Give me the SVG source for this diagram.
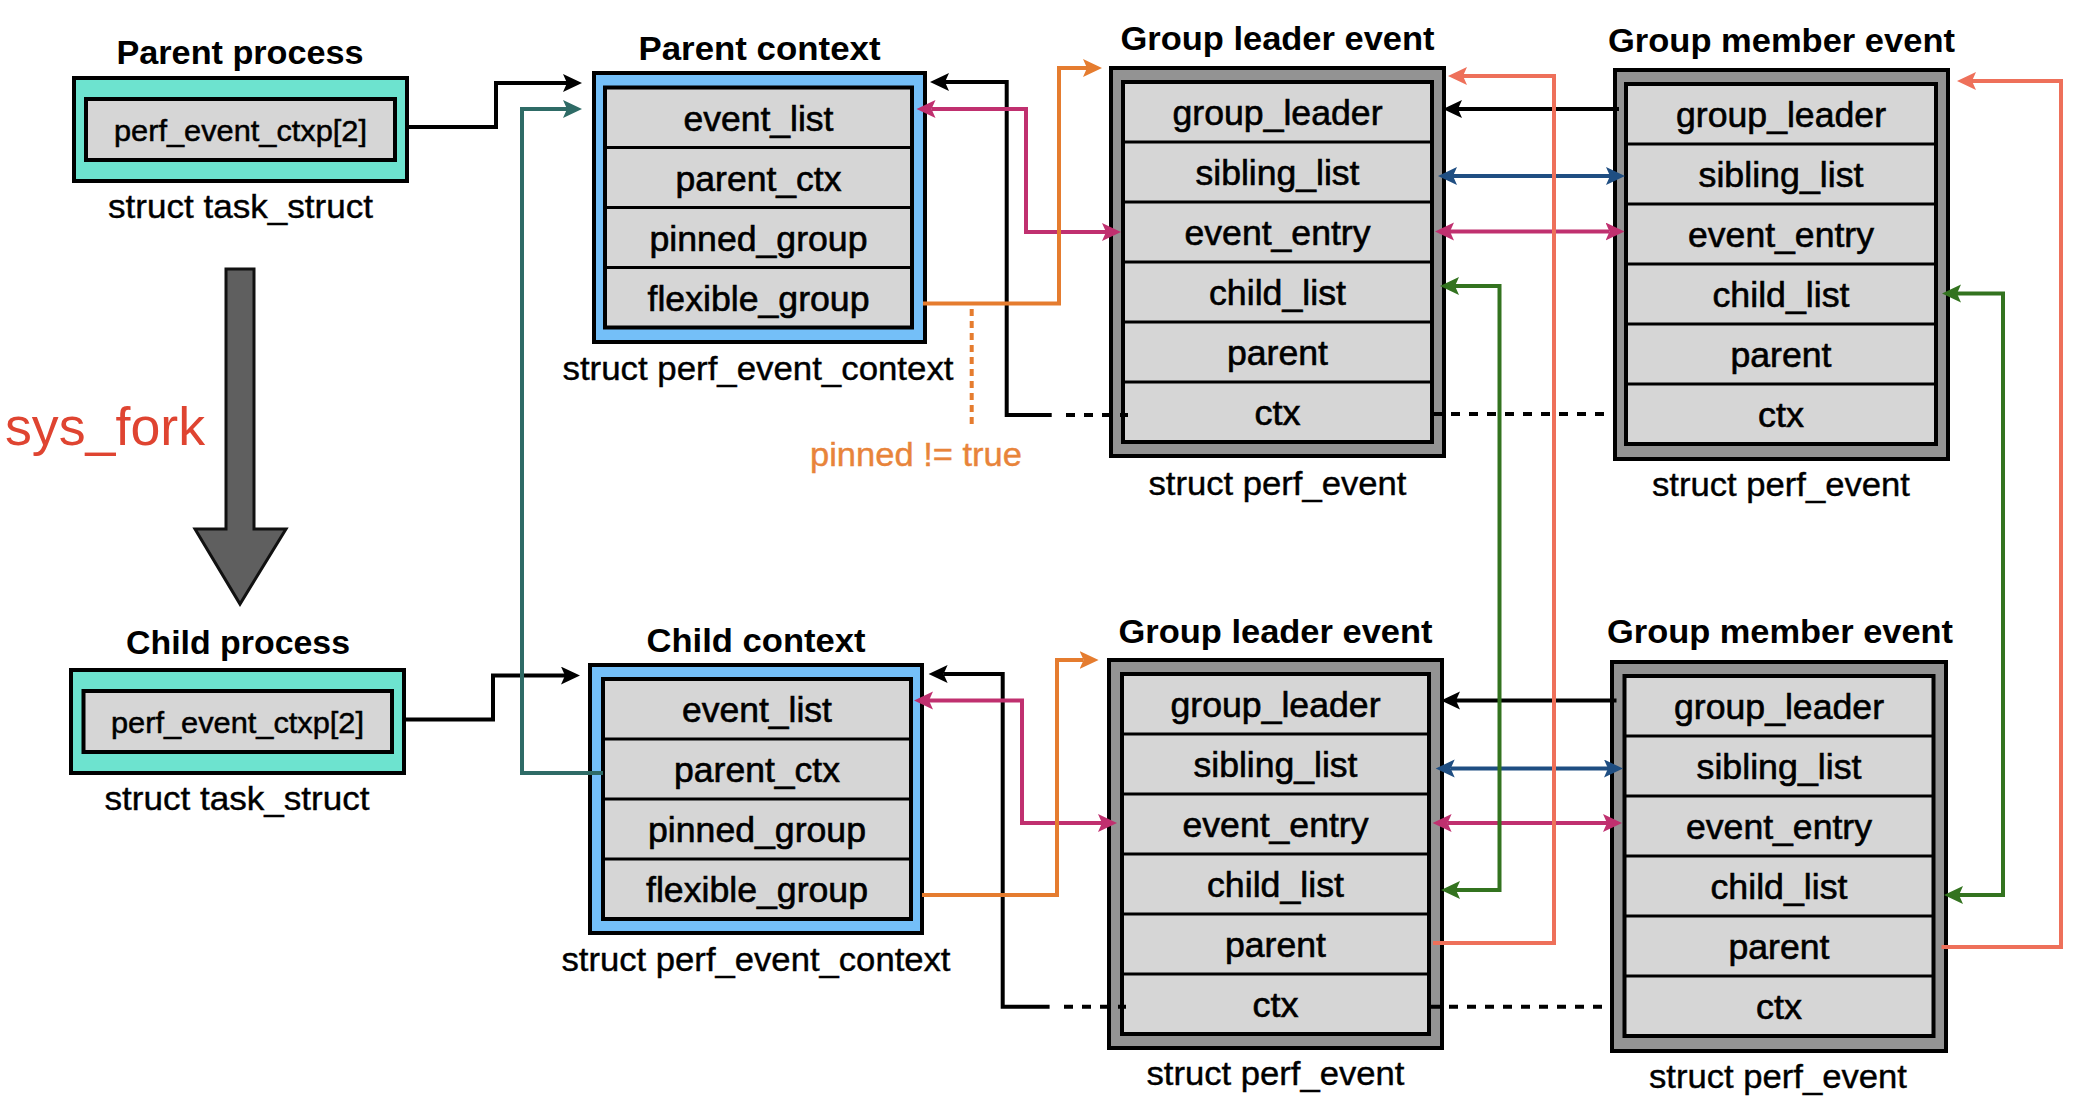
<svg xmlns="http://www.w3.org/2000/svg" width="2098" height="1116" viewBox="0 0 2098 1116">
<style>
text{font-family:"Liberation Sans",Arial,Helvetica,sans-serif;fill:#000}
.title{font-weight:bold;font-size:34px;text-anchor:middle}
.field{font-size:35px;text-anchor:middle;stroke:#000;stroke-width:0.6}
.tfield{font-size:30px;text-anchor:middle;stroke:#000;stroke-width:0.5}
.label{font-size:33px;text-anchor:middle;stroke:#000;stroke-width:0.4}
.outer{stroke:#000;stroke-width:4}
.task{fill:#6de3cf}
.ctx{fill:#74bff8}
.ev{fill:#939393}
.inner{fill:#d6d6d6;stroke:#000;stroke-width:4}
.div{stroke:#000;stroke-width:3}
.c{fill:none;stroke-width:4}
.k{stroke:#000}
.tl{stroke:#2e6b66}
.mg{stroke:#c0306f}
.or{stroke:#e57c2f}
.bl{stroke:#1f4e82}
.gr{stroke:#33731f}
.co{stroke:#ee705a}
</style>
<defs>
<marker id="ak" markerUnits="userSpaceOnUse" markerWidth="20" markerHeight="20" refX="4" refY="9" orient="auto-start-reverse"><path d="M0,0 L19,9 L0,18 L4,9 Z" fill="#000"/></marker>
<marker id="atl" markerUnits="userSpaceOnUse" markerWidth="20" markerHeight="20" refX="4" refY="9" orient="auto-start-reverse"><path d="M0,0 L19,9 L0,18 L4,9 Z" fill="#2e6b66"/></marker>
<marker id="amg" markerUnits="userSpaceOnUse" markerWidth="20" markerHeight="20" refX="4" refY="9" orient="auto-start-reverse"><path d="M0,0 L19,9 L0,18 L4,9 Z" fill="#c0306f"/></marker>
<marker id="aor" markerUnits="userSpaceOnUse" markerWidth="20" markerHeight="20" refX="4" refY="9" orient="auto-start-reverse"><path d="M0,0 L19,9 L0,18 L4,9 Z" fill="#e57c2f"/></marker>
<marker id="abl" markerUnits="userSpaceOnUse" markerWidth="20" markerHeight="20" refX="4" refY="9" orient="auto-start-reverse"><path d="M0,0 L19,9 L0,18 L4,9 Z" fill="#1f4e82"/></marker>
<marker id="agr" markerUnits="userSpaceOnUse" markerWidth="20" markerHeight="20" refX="4" refY="9" orient="auto-start-reverse"><path d="M0,0 L19,9 L0,18 L4,9 Z" fill="#33731f"/></marker>
<marker id="aco" markerUnits="userSpaceOnUse" markerWidth="20" markerHeight="20" refX="4" refY="9" orient="auto-start-reverse"><path d="M0,0 L19,9 L0,18 L4,9 Z" fill="#ee705a"/></marker>
</defs>
<rect width="2098" height="1116" fill="#fff"/>

<!-- sys_fork arrow -->
<g id="sys-fork">
<path d="M226,269 H254 V529 H286 L240,604 L195,529 H226 Z" fill="#5f5f5f" stroke="#111" stroke-width="3"/>
<text x="5" y="445" font-size="53" textLength="200" lengthAdjust="spacingAndGlyphs" style="fill:#df4431">sys_fork</text>
</g>

<!-- Parent process -->
<g id="parent-task">
<text class="title" x="240" y="64" textLength="247" lengthAdjust="spacingAndGlyphs">Parent process</text>
<rect class="outer task" x="74" y="78" width="333" height="103"/>
<rect class="inner" x="86" y="99" width="309" height="61"/>
<text class="tfield" x="240.5" y="141" textLength="253" lengthAdjust="spacingAndGlyphs">perf_event_ctxp[2]</text>
<text class="label" x="240.5" y="218" textLength="265" lengthAdjust="spacingAndGlyphs">struct task_struct</text>
</g>

<!-- Child process -->
<g id="child-task">
<text class="title" x="238" y="654" textLength="224" lengthAdjust="spacingAndGlyphs">Child process</text>
<rect class="outer task" x="71" y="670" width="333" height="103"/>
<rect class="inner" x="83.5" y="691" width="308.5" height="61"/>
<text class="tfield" x="237.5" y="733" textLength="253" lengthAdjust="spacingAndGlyphs">perf_event_ctxp[2]</text>
<text class="label" x="237" y="810" textLength="265" lengthAdjust="spacingAndGlyphs">struct task_struct</text>
</g>

<!-- Parent context -->
<g id="parent-context">
<text class="title" x="759.5" y="60" textLength="242" lengthAdjust="spacingAndGlyphs">Parent context</text>
<rect class="outer ctx" x="594" y="73" width="331" height="269"/>
<rect class="inner" x="605" y="87.5" width="307" height="240"/>
<path class="div" d="M605,147.5 H912 M605,207.5 H912 M605,267.5 H912"/>
<text class="field" x="758.5" y="130.5" textLength="150" lengthAdjust="spacingAndGlyphs">event_list</text>
<text class="field" x="758.5" y="190.5" textLength="166" lengthAdjust="spacingAndGlyphs">parent_ctx</text>
<text class="field" x="758.5" y="250.5" textLength="218" lengthAdjust="spacingAndGlyphs">pinned_group</text>
<text class="field" x="758.5" y="310.5" textLength="222" lengthAdjust="spacingAndGlyphs">flexible_group</text>
<text class="label" x="758" y="380" textLength="391" lengthAdjust="spacingAndGlyphs">struct perf_event_context</text>
</g>

<!-- Child context -->
<g id="child-context">
<text class="title" x="756" y="652" textLength="219" lengthAdjust="spacingAndGlyphs">Child context</text>
<rect class="outer ctx" x="590" y="665" width="332" height="268"/>
<rect class="inner" x="603" y="679" width="308" height="240"/>
<path class="div" d="M603,739 H911 M603,799 H911 M603,859 H911"/>
<text class="field" x="757" y="722" textLength="150" lengthAdjust="spacingAndGlyphs">event_list</text>
<text class="field" x="757" y="782" textLength="166" lengthAdjust="spacingAndGlyphs">parent_ctx</text>
<text class="field" x="757" y="842" textLength="218" lengthAdjust="spacingAndGlyphs">pinned_group</text>
<text class="field" x="757" y="902" textLength="222" lengthAdjust="spacingAndGlyphs">flexible_group</text>
<text class="label" x="756" y="971" textLength="389" lengthAdjust="spacingAndGlyphs">struct perf_event_context</text>
</g>

<!-- Parent group leader -->
<g id="parent-leader">
<text class="title" x="1277.5" y="50" textLength="314" lengthAdjust="spacingAndGlyphs">Group leader event</text>
<rect class="outer ev" x="1111" y="68" width="333" height="388"/>
<rect class="inner" x="1123" y="82" width="309" height="360"/>
<path class="div" d="M1123,142 H1432 M1123,202 H1432 M1123,262 H1432 M1123,322 H1432 M1123,382 H1432"/>
<text class="field" x="1277.5" y="125" textLength="210" lengthAdjust="spacingAndGlyphs">group_leader</text>
<text class="field" x="1277.5" y="185" textLength="164" lengthAdjust="spacingAndGlyphs">sibling_list</text>
<text class="field" x="1277.5" y="245" textLength="186" lengthAdjust="spacingAndGlyphs">event_entry</text>
<text class="field" x="1277.5" y="305" textLength="137" lengthAdjust="spacingAndGlyphs">child_list</text>
<text class="field" x="1277.5" y="365" textLength="101" lengthAdjust="spacingAndGlyphs">parent</text>
<text class="field" x="1277.5" y="425" textLength="46" lengthAdjust="spacingAndGlyphs">ctx</text>
<text class="label" x="1277.5" y="495" textLength="258" lengthAdjust="spacingAndGlyphs">struct perf_event</text>
</g>

<!-- Parent group member -->
<g id="parent-member">
<text class="title" x="1781.5" y="52" textLength="347" lengthAdjust="spacingAndGlyphs">Group member event</text>
<rect class="outer ev" x="1615" y="70" width="333" height="389"/>
<rect class="inner" x="1626" y="84" width="310" height="360"/>
<path class="div" d="M1626,144 H1936 M1626,204 H1936 M1626,264 H1936 M1626,324 H1936 M1626,384 H1936"/>
<text class="field" x="1781" y="127" textLength="210" lengthAdjust="spacingAndGlyphs">group_leader</text>
<text class="field" x="1781" y="187" textLength="165" lengthAdjust="spacingAndGlyphs">sibling_list</text>
<text class="field" x="1781" y="247" textLength="186" lengthAdjust="spacingAndGlyphs">event_entry</text>
<text class="field" x="1781" y="307" textLength="137" lengthAdjust="spacingAndGlyphs">child_list</text>
<text class="field" x="1781" y="367" textLength="101" lengthAdjust="spacingAndGlyphs">parent</text>
<text class="field" x="1781" y="427" textLength="46" lengthAdjust="spacingAndGlyphs">ctx</text>
<text class="label" x="1781" y="496" textLength="258" lengthAdjust="spacingAndGlyphs">struct perf_event</text>
</g>

<!-- Child group leader -->
<g id="child-leader">
<text class="title" x="1275.5" y="643" textLength="314" lengthAdjust="spacingAndGlyphs">Group leader event</text>
<rect class="outer ev" x="1109" y="660" width="333" height="388"/>
<rect class="inner" x="1122" y="674" width="307" height="360"/>
<path class="div" d="M1122,734 H1429 M1122,794 H1429 M1122,854 H1429 M1122,914 H1429 M1122,974 H1429"/>
<text class="field" x="1275.5" y="717" textLength="210" lengthAdjust="spacingAndGlyphs">group_leader</text>
<text class="field" x="1275.5" y="777" textLength="164" lengthAdjust="spacingAndGlyphs">sibling_list</text>
<text class="field" x="1275.5" y="837" textLength="186" lengthAdjust="spacingAndGlyphs">event_entry</text>
<text class="field" x="1275.5" y="897" textLength="137" lengthAdjust="spacingAndGlyphs">child_list</text>
<text class="field" x="1275.5" y="957" textLength="101" lengthAdjust="spacingAndGlyphs">parent</text>
<text class="field" x="1275.5" y="1017" textLength="46" lengthAdjust="spacingAndGlyphs">ctx</text>
<text class="label" x="1275.5" y="1085" textLength="258" lengthAdjust="spacingAndGlyphs">struct perf_event</text>
</g>

<!-- Child group member -->
<g id="child-member">
<text class="title" x="1780" y="643" textLength="346" lengthAdjust="spacingAndGlyphs">Group member event</text>
<rect class="outer ev" x="1612" y="662" width="334" height="389"/>
<rect class="inner" x="1624.5" y="676" width="309" height="360"/>
<path class="div" d="M1624.5,736 H1933.5 M1624.5,796 H1933.5 M1624.5,856 H1933.5 M1624.5,916 H1933.5 M1624.5,976 H1933.5"/>
<text class="field" x="1779" y="719" textLength="210" lengthAdjust="spacingAndGlyphs">group_leader</text>
<text class="field" x="1779" y="779" textLength="165" lengthAdjust="spacingAndGlyphs">sibling_list</text>
<text class="field" x="1779" y="839" textLength="186" lengthAdjust="spacingAndGlyphs">event_entry</text>
<text class="field" x="1779" y="899" textLength="137" lengthAdjust="spacingAndGlyphs">child_list</text>
<text class="field" x="1779" y="959" textLength="101" lengthAdjust="spacingAndGlyphs">parent</text>
<text class="field" x="1779" y="1019" textLength="46" lengthAdjust="spacingAndGlyphs">ctx</text>
<text class="label" x="1778" y="1088" textLength="258" lengthAdjust="spacingAndGlyphs">struct perf_event</text>
</g>

<text x="810" y="466" font-size="33" textLength="212" lengthAdjust="spacingAndGlyphs" style="fill:#e8843a;stroke:#e8843a;stroke-width:0.4">pinned != true</text>

<!-- Connectors -->
<g id="connectors">
<path class="c k" d="M405,127 H496 V83 H567" marker-end="url(#ak)"/>
<path class="c k" d="M404,719.6 H493 V675.6 H565" marker-end="url(#ak)"/>
<path class="c tl" d="M603,773 H522 V109 H567" marker-end="url(#atl)"/>
<path class="c k" d="M1051.7,415 H1006.7 V82 H945" marker-end="url(#ak)"/>
<path class="c k" d="M1066,415 H1128" stroke-dasharray="9 9"/>
<path class="c k" d="M1433,414 H1613" stroke-dasharray="9 9"/>
<path class="c k" d="M1049.6,1006.7 H1002.7 V674 H943.6" marker-end="url(#ak)"/>
<path class="c k" d="M1064,1006.7 H1126" stroke-dasharray="9 9"/>
<path class="c k" d="M1431,1006.7 H1611" stroke-dasharray="9 9"/>
<path class="c mg" d="M931.5,109 H1026 V232 H1106" marker-start="url(#amg)" marker-end="url(#amg)"/>
<path class="c mg" d="M929,700.6 H1022 V823 H1102" marker-start="url(#amg)" marker-end="url(#amg)"/>
<path class="c or" d="M923,303.6 H1059 V68 H1087" marker-end="url(#aor)"/>
<path class="c or" d="M922,895 H1057 V660 H1083.6" marker-end="url(#aor)"/>
<path class="c or" d="M971.7,309 V427" stroke-width="4.5" stroke-dasharray="7 5"/>
<path class="c k" d="M1619,109 H1458" marker-end="url(#ak)"/>
<path class="c k" d="M1616.5,700.6 H1456" marker-end="url(#ak)"/>
<path class="c bl" d="M1453,176 H1610" marker-start="url(#abl)" marker-end="url(#abl)"/>
<path class="c bl" d="M1450.7,768.5 H1608" marker-start="url(#abl)" marker-end="url(#abl)"/>
<path class="c mg" d="M1450,231.5 H1609.5" marker-start="url(#amg)" marker-end="url(#amg)"/>
<path class="c mg" d="M1447.6,823 H1607" marker-start="url(#amg)" marker-end="url(#amg)"/>
<path class="c gr" d="M1455,286 H1499.5 V890 H1456" marker-start="url(#agr)" marker-end="url(#agr)"/>
<path class="c gr" d="M1957,293.6 H2003 V895 H1959" marker-start="url(#agr)" marker-end="url(#agr)"/>
<path class="c co" d="M1433,943 H1554 V76 H1463" marker-end="url(#aco)"/>
<path class="c co" d="M1941.5,947 H2061 V81 H1972" marker-end="url(#aco)"/>
</g>
</svg>
